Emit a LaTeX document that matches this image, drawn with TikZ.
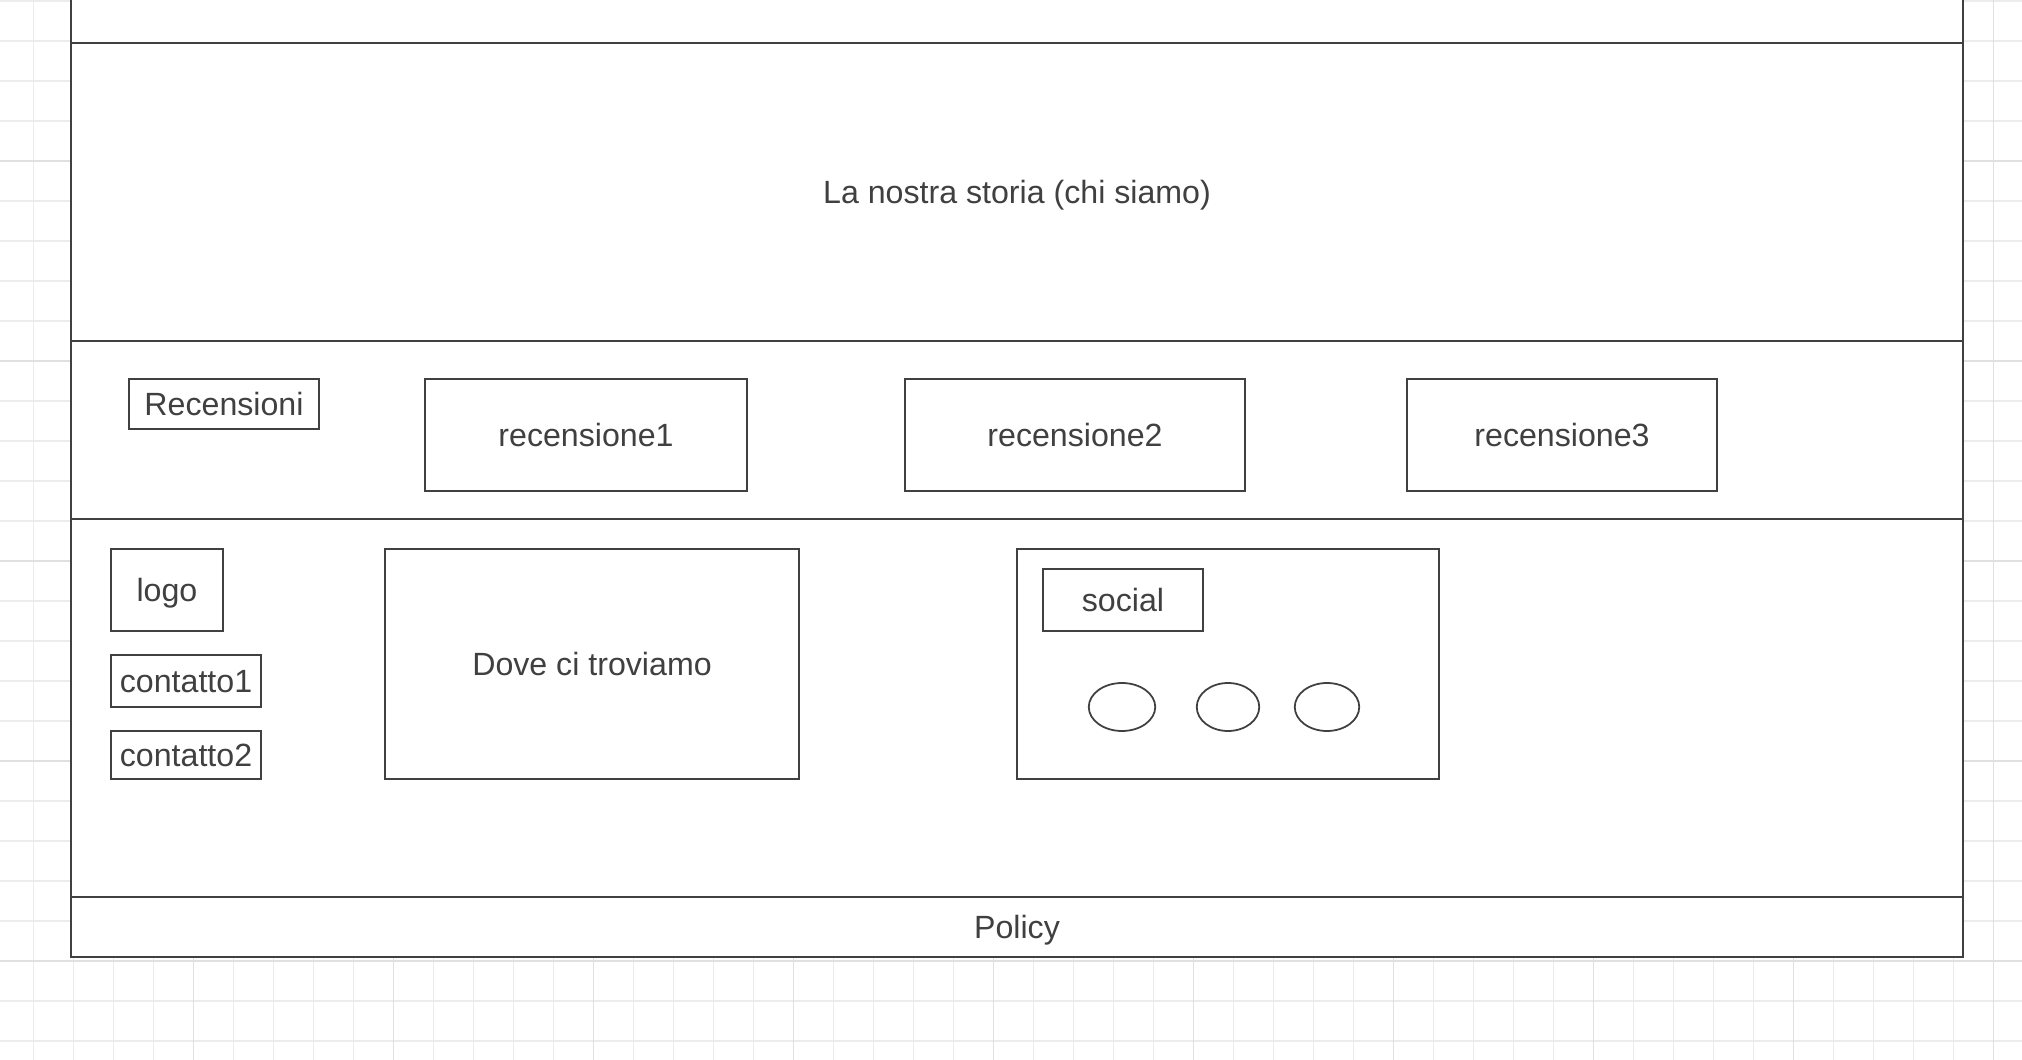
\documentclass[tikz,border=0pt]{standalone}
\usepackage{fontspec}
\setmainfont{Liberation Sans}
\usetikzlibrary{shapes.geometric}
\definecolor{tratto}{RGB}{64,64,64}
\definecolor{griglia}{RGB}{236,236,236}
\definecolor{grigliaforte}{RGB}{224,224,224}

\begin{document}
\begin{tikzpicture}[
        x=0.02cm, y=-0.02cm,
        every node/.style={font=\fontsize{18.3pt}{22pt}\selectfont, text=tratto,
            inner sep=0pt, outer sep=0pt, text height=13pt, text depth=0pt},
        sezione/.style={draw=tratto, line width=1pt, fill=white, minimum width=37.84cm},
        riquadro/.style={draw=tratto, line width=1pt, fill=white},
        bottone/.style={ellipse, draw=tratto, line width=1pt, minimum height=0.96cm}]

        \useasboundingbox (0,0) rectangle (2022,1060);
        \clip (0,0) rectangle (2022,1060);

        % griglia di sfondo
        \foreach \gx in {33.5,73.5,...,1993.5}
            \draw[griglia, line width=0.85pt] (\gx,0) -- (\gx,1060);
        \foreach \gy in {1,41,...,1041}
            \draw[griglia, line width=0.85pt] (0,\gy) -- (2022,\gy);
        \foreach \gx in {193.5,393.5,...,1993.5}
            \draw[grigliaforte, line width=0.85pt] (\gx,0) -- (\gx,1060);
        \foreach \gy in {161,361,...,961}
            \draw[grigliaforte, line width=0.85pt] (0,\gy) -- (2022,\gy);

        % sezioni della pagina
        \node[sezione, minimum height=1.06cm] (Testata) at (1017,16.5) {};
        \node[sezione, minimum height=5.96cm] (Storia) at (1017,192) {La nostra storia (chi siamo)};
        \node[sezione, minimum height=3.56cm] (Recensioni) at (1017,430) {};
        \node[sezione, minimum height=7.56cm] (Contenuti) at (1017,708) {};
        \node[sezione, minimum height=1.2cm] (Policy) at (1017,927) {Policy};

        % recensioni
        \node[riquadro, minimum width=3.8cm, minimum height=1cm] (TitoloRec) at (224,404) {Recensioni};
        \node[riquadro, minimum width=6.44cm, minimum height=2.24cm] (Rec1) at (586,435) {recensione1};
        \node[riquadro, minimum width=6.8cm, minimum height=2.24cm] (Rec2) at (1075,435) {recensione2};
        \node[riquadro, minimum width=6.2cm, minimum height=2.24cm] (Rec3) at (1562,435) {recensione3};

        % footer
        \node[riquadro, minimum width=2.24cm, minimum height=1.64cm] (Logo) at (167,590) {logo};
        \node[riquadro, minimum width=3cm, minimum height=1.04cm] (Contatto1) at (186,681) {contatto1};
        \node[riquadro, minimum width=3cm, minimum height=0.96cm] (Contatto2) at (186,755) {contatto2};
        \node[riquadro, minimum width=8.28cm, minimum height=4.6cm] (Dove) at (592,664) {Dove ci troviamo};
        \node[riquadro, minimum width=8.44cm, minimum height=4.6cm] (Social) at (1228,664) {};
        \node[riquadro, minimum width=3.2cm, minimum height=1.24cm] (TitoloSocial) at (1123,600) {social};
        \node[bottone, minimum width=1.33cm] (Icona1) at (1122,707) {};
        \node[bottone, minimum width=1.25cm] (Icona2) at (1228,707) {};
        \node[bottone, minimum width=1.29cm] (Icona3) at (1327,707) {};

    \end{tikzpicture}
\end{document}
